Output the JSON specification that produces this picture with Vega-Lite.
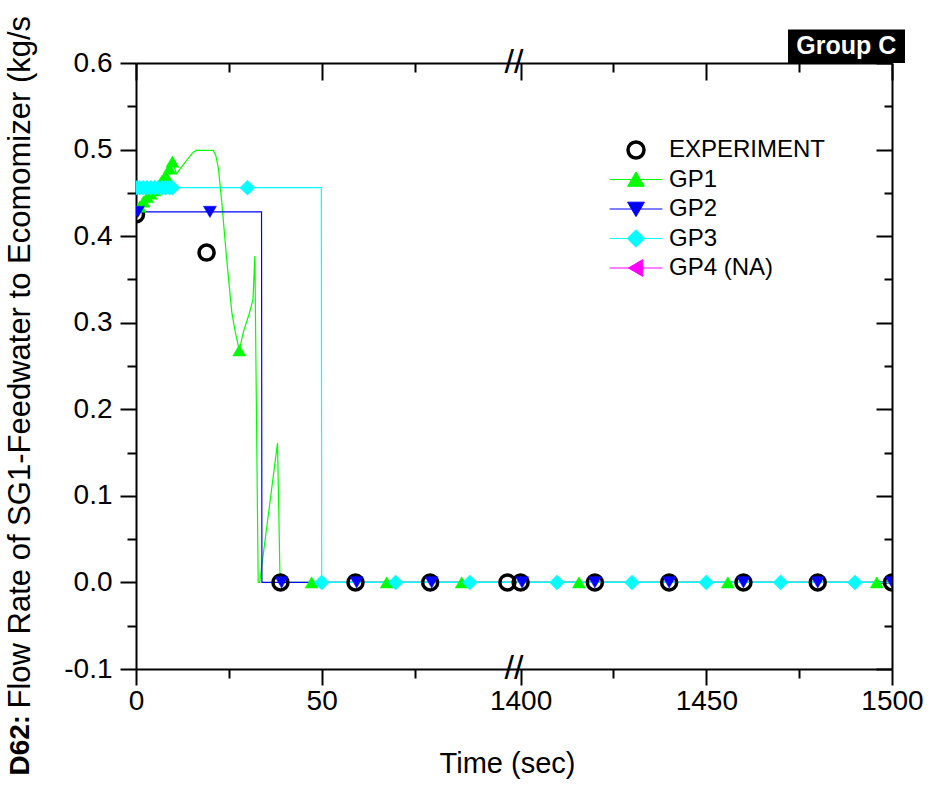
{
  "$schema": "https://vega.github.io/schema/vega-lite/v6.json",
  "autosize": {"type": "none"},
  "padding": {"left": 136, "top": 63, "right": 41, "bottom": 118},
  "width": 756,
  "height": 606,
  "background": "white",
  "config": {"view": {"stroke": null}, "font": "Liberation Sans"},
  "datasets": {
    "lines": [
      {"series": "GP1", "t": 0, "v": 0.424},
      {"series": "GP1", "t": 1, "v": 0.434},
      {"series": "GP1", "t": 2, "v": 0.44},
      {"series": "GP1", "t": 3, "v": 0.445},
      {"series": "GP1", "t": 4, "v": 0.449},
      {"series": "GP1", "t": 5, "v": 0.453},
      {"series": "GP1", "t": 6, "v": 0.458},
      {"series": "GP1", "t": 7, "v": 0.464},
      {"series": "GP1", "t": 8, "v": 0.47},
      {"series": "GP1", "t": 9, "v": 0.478},
      {"series": "GP1", "t": 9.8, "v": 0.486},
      {"series": "GP1", "t": 10.9, "v": 0.472},
      {"series": "GP1", "t": 13, "v": 0.484},
      {"series": "GP1", "t": 15.4, "v": 0.497},
      {"series": "GP1", "t": 16.3, "v": 0.499},
      {"series": "GP1", "t": 20.8, "v": 0.499},
      {"series": "GP1", "t": 21.5, "v": 0.493},
      {"series": "GP1", "t": 22.2, "v": 0.478},
      {"series": "GP1", "t": 23.1, "v": 0.439},
      {"series": "GP1", "t": 24.4, "v": 0.374},
      {"series": "GP1", "t": 25.8, "v": 0.312},
      {"series": "GP1", "t": 26.7, "v": 0.29},
      {"series": "GP1", "t": 27.8, "v": 0.268},
      {"series": "GP1", "t": 28.9, "v": 0.289},
      {"series": "GP1", "t": 30.6, "v": 0.312},
      {"series": "GP1", "t": 31.5, "v": 0.327},
      {"series": "GP1", "t": 32.0, "v": 0.377},
      {"series": "GP1", "t": 32.9, "v": 0.0},
      {"series": "GP1", "t": 33.3, "v": 0.0},
      {"series": "GP1", "t": 38.1, "v": 0.161},
      {"series": "GP1", "t": 38.8, "v": 0.0},
      {"series": "GP1", "t": 1500, "v": 0.0},
      {"series": "GP2", "t": 0, "v": 0.428},
      {"series": "GP2", "t": 33.8, "v": 0.428},
      {"series": "GP2", "t": 33.9, "v": 0.0},
      {"series": "GP2", "t": 1500, "v": 0.0},
      {"series": "GP3", "t": 0, "v": 0.456},
      {"series": "GP3", "t": 49.9, "v": 0.456},
      {"series": "GP3", "t": 50.0, "v": 0.0},
      {"series": "GP3", "t": 1500, "v": 0.0}
    ],
    "markers": [
      {"series": "EXPERIMENT", "t": 0, "v": 0.425},
      {"series": "EXPERIMENT", "t": 19, "v": 0.381},
      {"series": "EXPERIMENT", "t": 38.9, "v": 0},
      {"series": "EXPERIMENT", "t": 59.1, "v": 0},
      {"series": "EXPERIMENT", "t": 79.2, "v": 0},
      {"series": "EXPERIMENT", "t": 100, "v": 0},
      {"series": "EXPERIMENT", "t": 1400, "v": 0},
      {"series": "EXPERIMENT", "t": 1420, "v": 0},
      {"series": "EXPERIMENT", "t": 1440, "v": 0},
      {"series": "EXPERIMENT", "t": 1460, "v": 0},
      {"series": "EXPERIMENT", "t": 1480, "v": 0},
      {"series": "EXPERIMENT", "t": 1500, "v": 0},
      {"series": "GP1", "t": 1, "v": 0.434},
      {"series": "GP1", "t": 2, "v": 0.44},
      {"series": "GP1", "t": 3, "v": 0.445},
      {"series": "GP1", "t": 4, "v": 0.449},
      {"series": "GP1", "t": 5, "v": 0.453},
      {"series": "GP1", "t": 6, "v": 0.458},
      {"series": "GP1", "t": 7, "v": 0.464},
      {"series": "GP1", "t": 8, "v": 0.47},
      {"series": "GP1", "t": 9, "v": 0.478},
      {"series": "GP1", "t": 9.8, "v": 0.486},
      {"series": "GP1", "t": 27.8, "v": 0.268},
      {"series": "GP1", "t": 47.3, "v": 0},
      {"series": "GP1", "t": 67.5, "v": 0},
      {"series": "GP1", "t": 87.7, "v": 0},
      {"series": "GP1", "t": 1415.7, "v": 0},
      {"series": "GP1", "t": 1455.8, "v": 0},
      {"series": "GP1", "t": 1495.9, "v": 0},
      {"series": "GP2", "t": 0.5, "v": 0.428},
      {"series": "GP2", "t": 19.9, "v": 0.428},
      {"series": "GP2", "t": 39.2, "v": 0},
      {"series": "GP2", "t": 59.4, "v": 0},
      {"series": "GP2", "t": 79.6, "v": 0},
      {"series": "GP2", "t": 1400.4, "v": 0},
      {"series": "GP2", "t": 1420, "v": 0},
      {"series": "GP2", "t": 1440, "v": 0},
      {"series": "GP2", "t": 1460, "v": 0},
      {"series": "GP2", "t": 1480, "v": 0},
      {"series": "GP2", "t": 1500, "v": 0},
      {"series": "GP3", "t": 0, "v": 0.456},
      {"series": "GP3", "t": 1, "v": 0.456},
      {"series": "GP3", "t": 2, "v": 0.456},
      {"series": "GP3", "t": 3, "v": 0.456},
      {"series": "GP3", "t": 4, "v": 0.456},
      {"series": "GP3", "t": 5, "v": 0.456},
      {"series": "GP3", "t": 6, "v": 0.456},
      {"series": "GP3", "t": 7, "v": 0.456},
      {"series": "GP3", "t": 8, "v": 0.456},
      {"series": "GP3", "t": 9, "v": 0.456},
      {"series": "GP3", "t": 9.8, "v": 0.456},
      {"series": "GP3", "t": 30, "v": 0.456},
      {"series": "GP3", "t": 50, "v": 0},
      {"series": "GP3", "t": 69.9, "v": 0},
      {"series": "GP3", "t": 89.9, "v": 0},
      {"series": "GP3", "t": 1409.8, "v": 0},
      {"series": "GP3", "t": 1430, "v": 0},
      {"series": "GP3", "t": 1450, "v": 0},
      {"series": "GP3", "t": 1470, "v": 0},
      {"series": "GP3", "t": 1490, "v": 0}
    ]
  },
  "resolve": {"axis": {"x": "independent", "y": "independent"}},
  "layer": [
    {
      "data": {"name": "lines"},
      "mark": {"type": "line", "strokeWidth": 1.2, "clip": true},
      "encoding": {
        "x": {
          "field": "t", "type": "quantitative",
          "scale": {"domain": [0, 100, 1400, 1500], "range": [0, 371.4, 384.6, 756], "nice": false, "zero": false},
          "axis": {
            "orient": "bottom", "values": [0, 50, 1400, 1450, 1500],
            "labelExpr": "'' + datum.value",
            "title": "Time (sec)", "grid": false,
            "domainColor": "black", "domainWidth": 2, "tickColor": "black", "tickWidth": 2, "tickSize": 16,
            "labelFont": "Liberation Sans", "labelFontSize": 28, "labelColor": "black", "labelPadding": 2,
            "labelFlush": false, "labelOverlap": false,
            "titleFont": "Liberation Sans", "titleFontSize": 29, "titleFontWeight": "normal", "titleColor": "black",
            "titleX": 371, "titleY": 94, "titleBaseline": "middle", "titleAlign": "center"
          }
        },
        "y": {
          "field": "v", "type": "quantitative",
          "scale": {"domain": [-0.1, 0.6], "nice": false, "zero": false},
          "axis": {
            "orient": "left",
            "values": [-0.1, 0, 0.1, 0.2, 0.3, 0.4, 0.5, 0.6],
            "labelExpr": "datum.value < -0.001 ? '-' + format(-datum.value, '.1f') : format(datum.value, '.1f')",
            "title": "Flow Rate of SG1-Feedwater to Ecomomizer (kg/s", "grid": false,
            "domainColor": "black", "domainWidth": 2, "tickColor": "black", "tickWidth": 2, "tickSize": 16,
            "labelFont": "Liberation Sans", "labelFontSize": 28, "labelColor": "black", "labelPadding": 8,
            "labelFlush": false, "labelOverlap": false,
            "titleFont": "Liberation Sans", "titleFontSize": 31, "titleFontWeight": "normal", "titleColor": "black",
            "titleAngle": 270, "titleAlign": "left", "titleBaseline": "middle", "titleX": -116, "titleY": 645
          }
        },
        "stroke": {
          "field": "series", "type": "nominal",
          "scale": {"domain": ["GP1", "GP2", "GP3", "GP4 (NA)", "EXPERIMENT"], "range": ["#00ff00", "#0000ff", "#00ffff", "#ff00ff", "black"]},
          "legend": null
        },
        "opacity": {
          "field": "series", "type": "ordinal",
          "scale": {"domain": ["EXPERIMENT", "GP1", "GP2", "GP3", "GP4 (NA)"], "range": [1, 1, 1, 1, 1]},
          "legend": {
            "orient": "none", "legendX": 488, "legendY": 75, "title": null, "direction": "vertical", "padding": 0,
            "gridAlign": "all",
            "labelFont": "Liberation Sans", "labelFontSize": 24, "labelColor": "black", "labelOffset": 21,
            "symbolSize": 256, "rowPadding": 2.5, "labelLimit": 300,
            "encode": {"symbols": {"update": {
              "shape": {"signal": "datum.value === 'EXPERIMENT' ? 'circle' : datum.value === 'GP1' ? 'M-3.3,0H3.3M0,-0.95L1.05,0.85H-1.05Z' : datum.value === 'GP2' ? 'M-3.3,0H3.3M0,0.95L1.05,-0.85H-1.05Z' : datum.value === 'GP3' ? 'M-3.3,0H3.3M0,-1.1L1.1,0L0,1.1L-1.1,0Z' : 'M-3.3,0H3.3M-0.95,0L0.85,-1.05V1.05Z'"},
              "fill": {"signal": "datum.value === 'EXPERIMENT' ? 'transparent' : datum.value === 'GP1' ? '#00ff00' : datum.value === 'GP2' ? '#0000ff' : datum.value === 'GP3' ? '#00ffff' : '#ff00ff'"},
              "stroke": {"signal": "datum.value === 'EXPERIMENT' ? 'black' : datum.value === 'GP1' ? '#00ff00' : datum.value === 'GP2' ? '#0000ff' : datum.value === 'GP3' ? '#00ffff' : '#ff00ff'"},
              "strokeWidth": {"signal": "datum.value === 'EXPERIMENT' ? 3.5 : 1"},
              "size": {"value": 256}
            }}}
          }
        }
      }
    },
    {
      "data": {"name": "markers"},
      "mark": {"type": "point", "filled": true, "clip": true, "opacity": 1},
      "encoding": {
        "x": {
          "field": "t", "type": "quantitative",
          "axis": {
            "orient": "top", "values": [0, 50, 1400, 1450, 1500],
            "labels": false, "title": null, "grid": false,
            "domainColor": "black", "domainWidth": 2, "tickColor": "black", "tickWidth": 2, "tickSize": -17
          }
        },
        "y": {
          "field": "v", "type": "quantitative",
          "axis": {
            "orient": "right",
            "values": [-0.1, 0, 0.1, 0.2, 0.3, 0.4, 0.5, 0.6],
            "labels": false, "title": null, "grid": false,
            "domainColor": "black", "domainWidth": 2, "tickColor": "black", "tickWidth": 2, "tickSize": -16
          }
        },
        "shape": {
          "field": "series", "type": "nominal",
          "scale": {"domain": ["GP1", "GP2", "GP3", "GP4 (NA)", "EXPERIMENT"], "range": ["triangle-up", "triangle-down", "diamond", "triangle-left", "circle"]},
          "legend": null
        },
        "stroke": {
          "field": "series", "type": "nominal",
          "scale": {"domain": ["GP1", "GP2", "GP3", "GP4 (NA)", "EXPERIMENT"], "range": ["#00ff00", "#0000ff", "#00ffff", "#ff00ff", "black"]},
          "legend": null
        },
        "fill": {
          "field": "series", "type": "nominal",
          "scale": {"domain": ["GP1", "GP2", "GP3", "GP4 (NA)", "EXPERIMENT"], "range": ["#00ff00", "#0000ff", "#00ffff", "#ff00ff", "transparent"]},
          "legend": null
        },
        "size": {
          "condition": {"test": "datum.series === 'EXPERIMENT' || datum.series === 'GP3'", "value": 225},
          "value": 169
        },
        "strokeWidth": {
          "condition": {"test": "datum.series === 'EXPERIMENT'", "value": 3.5},
          "value": 0.5
        }
      }
    },
    {
      "data": {"values": [{}]},
      "mark": {"type": "rect", "color": "black"},
      "encoding": {
        "x": {"datum": 1472, "type": "quantitative",
          "axis": {"orient": "bottom", "values": [25, 75, 1425, 1475], "labels": false, "title": null, "grid": false, "domain": false, "tickColor": "black", "tickWidth": 2, "tickSize": 9}},
        "x2": {"datum": 1503.5},
        "y": {"datum": 0.6, "type": "quantitative",
          "axis": {"orient": "left", "values": [-0.05, 0.05, 0.15, 0.25, 0.35, 0.45, 0.55], "labels": false, "title": null, "grid": false, "domain": false, "tickColor": "black", "tickWidth": 2, "tickSize": 9}},
        "y2": {"datum": 0.6388}
      }
    },
    {
      "data": {"values": [{}]},
      "mark": {"type": "text", "text": "Group C", "color": "white", "font": "Liberation Sans", "fontSize": 25, "fontWeight": "bold", "align": "center", "baseline": "middle"},
      "encoding": {
        "x": {"datum": 1487.7, "type": "quantitative",
          "axis": {"orient": "top", "values": [25, 75, 1425, 1475], "labels": false, "title": null, "grid": false, "domain": false, "tickColor": "black", "tickWidth": 2, "tickSize": -9}},
        "y": {"datum": 0.6195, "type": "quantitative",
          "axis": {"orient": "right", "values": [-0.05, 0.05, 0.15, 0.25, 0.35, 0.45, 0.55], "labels": false, "title": null, "grid": false, "domain": false, "tickColor": "black", "tickWidth": 2, "tickSize": -8}}
      }
    },
    {
      "data": {"values": [{}]},
      "mark": {"type": "text", "text": "//", "color": "black", "font": "Liberation Sans", "fontSize": 34, "align": "center", "baseline": "middle"},
      "encoding": {
        "x": {"datum": 750, "type": "quantitative", "axis": null},
        "y": {"datum": 0.6, "type": "quantitative",
          "axis": {"orient": "left", "values": [], "labels": false, "ticks": false, "domain": false, "grid": false,
            "title": "D62:", "titleFont": "Liberation Sans", "titleFontSize": 28, "titleFontWeight": "bold", "titleColor": "black",
            "titleAngle": 270, "titleAlign": "left", "titleBaseline": "middle", "titleX": -116, "titleY": 712}}
      }
    },
    {
      "data": {"values": [{}]},
      "mark": {"type": "text", "text": "//", "color": "black", "font": "Liberation Sans", "fontSize": 34, "align": "center", "baseline": "middle"},
      "encoding": {
        "x": {"datum": 750, "type": "quantitative", "axis": null},
        "y": {"datum": -0.1, "type": "quantitative", "axis": null}
      }
    }
  ]
}
